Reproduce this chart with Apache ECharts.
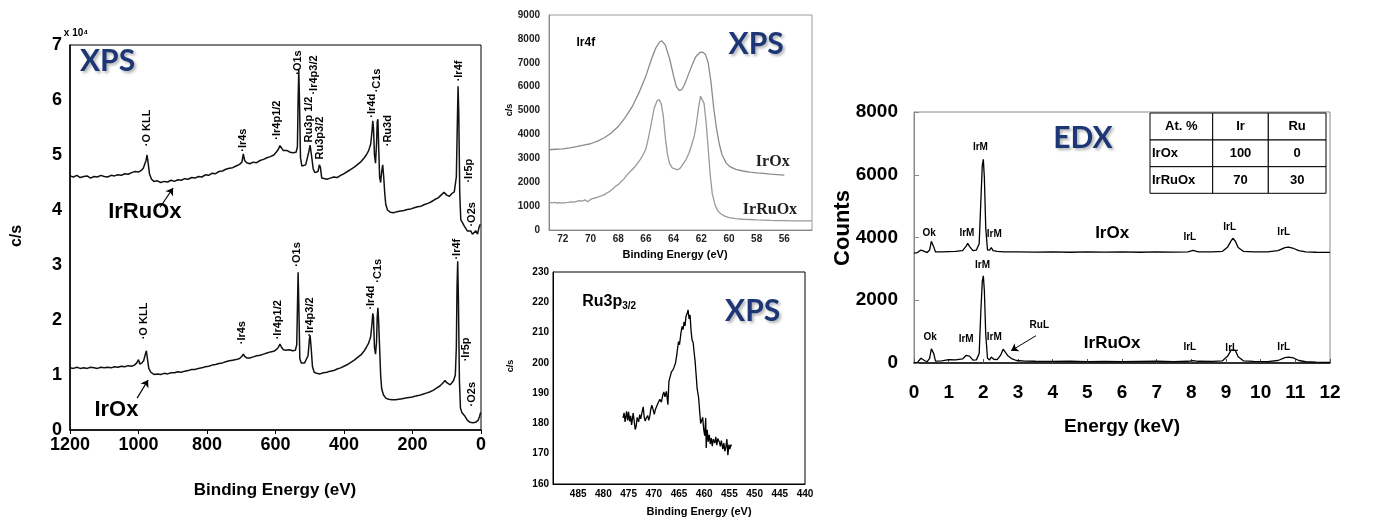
<!DOCTYPE html>
<html>
<head>
<meta charset="utf-8">
<title>XPS / EDX spectra of IrOx and IrRuOx</title>
<script src="https://cdn.jsdelivr.net/npm/echarts@6.0.0/dist/echarts.min.js"></script>
<style>
  html, body { margin: 0; padding: 0; background: #fff; }
  #chart { width: 1378px; height: 519px; }
</style>
</head>
<body>
<div id="chart"></div>
<script>
// ---------- spectra: [energy, intensity] ----------

// XPS survey, intensity in units of 1e4 c/s
const surveyIrRuOx = [
  [1200,4.62],[1190,4.60],[1180,4.63],[1170,4.59],[1160,4.61],[1150,4.62],[1140,4.58],[1130,4.61],[1120,4.60],[1110,4.63],
  [1100,4.61],[1090,4.60],[1080,4.63],[1070,4.62],[1060,4.64],[1050,4.63],[1040,4.66],[1030,4.65],[1020,4.68],[1010,4.70],
  [1000,4.69],[992,4.72],[986,4.76],[982,4.74],[978,4.90],[975,5.00],[972,4.86],[968,4.66],[962,4.56],[955,4.52],
  [945,4.53],[935,4.50],[925,4.52],[915,4.51],[905,4.54],[895,4.52],[885,4.55],[875,4.54],[865,4.57],[855,4.56],
  [845,4.59],[835,4.58],[825,4.61],[815,4.60],[805,4.64],[795,4.63],[785,4.67],[775,4.66],[765,4.70],[755,4.71],
  [745,4.74],[735,4.76],[725,4.77],[715,4.80],[705,4.83],[698,4.87],[694,5.02],[690,4.90],[684,4.86],[675,4.84],
  [665,4.87],[655,4.86],[645,4.90],[635,4.92],[625,4.95],[615,4.97],[605,5.00],[598,5.05],[592,5.10],[587,5.17],
  [582,5.15],[577,5.08],[572,5.05],[566,5.08],[562,5.11],[557,5.05],[550,5.04],[545,5.02],[540,5.05],[536,5.15],
  [534,6.00],[532,6.55],[530,6.00],[527,4.95],[523,4.80],[518,4.78],[512,4.82],[507,4.85],[503,5.05],[499,5.18],
  [495,5.00],[490,4.75],[485,4.68],[480,4.65],[476,4.70],[472,4.82],[469,4.78],[465,4.58],[460,4.55],[450,4.56],
  [440,4.58],[430,4.60],[420,4.59],[410,4.63],[400,4.66],[390,4.70],[380,4.74],[370,4.78],[360,4.83],[350,4.88],
  [342,4.94],[335,5.00],[328,5.08],[322,5.20],[318,5.45],[316,5.62],[314,5.50],[311,5.00],[308,4.85],[305,5.20],
  [303,5.60],[301,5.65],[299,5.20],[296,4.60],[293,4.50],[290,4.70],[287,4.82],[284,4.60],[281,4.30],[278,4.10],
  [273,4.00],[265,3.96],[255,3.95],[245,3.97],[235,3.98],[225,3.99],[215,4.01],[205,4.02],[195,4.04],[185,4.06],
  [175,4.07],[165,4.10],[155,4.12],[145,4.15],[135,4.19],[125,4.22],[115,4.28],[108,4.32],[100,4.27],[92,4.25],
  [85,4.30],[78,4.33],[72,4.60],[69,5.60],[67,6.25],[65,5.80],[62,4.30],[59,3.82],[55,3.78],[50,3.72],
  [45,3.70],[40,3.62],[35,3.60],[30,3.62],[25,3.56],[20,3.55],[15,3.62],[10,3.56],[6,3.68],[2,3.74]
];
const surveyIrOx = [
  [1200,1.13],[1190,1.12],[1180,1.14],[1170,1.12],[1160,1.13],[1150,1.12],[1140,1.14],[1130,1.13],[1120,1.12],[1110,1.14],
  [1100,1.13],[1090,1.14],[1080,1.13],[1070,1.15],[1060,1.14],[1050,1.16],[1040,1.15],[1030,1.17],[1020,1.16],[1012,1.18],
  [1005,1.22],[1000,1.28],[996,1.20],[990,1.22],[985,1.26],[980,1.38],[977,1.44],[974,1.30],[970,1.12],[964,1.05],
  [955,1.01],[945,1.02],[935,1.01],[925,1.03],[915,1.02],[905,1.04],[895,1.04],[885,1.06],[875,1.05],[865,1.07],
  [855,1.08],[845,1.10],[835,1.10],[825,1.12],[815,1.13],[805,1.15],[795,1.16],[785,1.18],[775,1.19],[765,1.21],
  [755,1.22],[745,1.24],[735,1.26],[725,1.27],[715,1.28],[705,1.30],[698,1.34],[694,1.38],[690,1.34],[684,1.31],
  [675,1.31],[665,1.33],[655,1.35],[645,1.36],[635,1.38],[625,1.40],[615,1.42],[605,1.43],[598,1.46],[592,1.50],
  [587,1.56],[582,1.50],[577,1.46],[570,1.45],[560,1.46],[550,1.44],[542,1.45],[538,1.55],[536,2.20],[534,2.87],
  [532,2.30],[529,1.30],[525,1.22],[520,1.20],[515,1.22],[510,1.24],[505,1.35],[501,1.65],[499,1.72],[496,1.50],
  [492,1.15],[487,1.05],[480,1.03],[470,1.02],[460,1.04],[450,1.05],[440,1.07],[430,1.08],[420,1.11],[410,1.13],
  [400,1.16],[390,1.19],[380,1.23],[370,1.27],[360,1.32],[350,1.37],[342,1.43],[335,1.50],[328,1.58],[322,1.70],
  [318,1.95],[316,2.12],[314,2.05],[311,1.50],[308,1.38],[305,1.60],[303,2.05],[301,2.22],[299,2.00],[296,1.50],
  [293,1.00],[290,0.75],[285,0.64],[278,0.58],[270,0.56],[260,0.55],[250,0.55],[240,0.56],[230,0.57],[220,0.58],
  [210,0.59],[200,0.60],[190,0.62],[180,0.63],[170,0.65],[160,0.67],[150,0.69],[140,0.72],[130,0.76],[120,0.80],
  [112,0.85],[105,0.90],[100,0.86],[95,0.83],[90,0.82],[85,0.86],[80,0.90],[75,1.00],[72,1.50],[70,2.60],
  [68,3.07],[66,2.40],[63,0.90],[60,0.40],[56,0.32],[52,0.30],[48,0.26],[44,0.24],[40,0.18],[36,0.15],
  [32,0.14],[28,0.17],[24,0.13],[20,0.10],[16,0.14],[12,0.11],[8,0.18],[4,0.25],[1,0.32]
];

// Ir4f region, c/s
const ir4fIrOx = [
  [73,3360],[72.5,3380],[72,3400],[71.5,3440],[71,3490],[70.5,3550],[70,3610],[69.5,3720],[69,3860],[68.5,4060],
  [68,4330],[67.5,4700],[67,5150],[66.5,5750],[66,6450],[65.6,7150],[65.3,7600],[65,7880],[64.85,7920],[64.6,7750],
  [64.3,7200],[64,6450],[63.8,6000],[63.6,5840],[63.4,5880],[63.2,6100],[63,6400],[62.7,6850],[62.4,7250],[62.1,7430],
  [61.9,7450],[61.7,7350],[61.5,7000],[61.3,6200],[61.1,5100],[60.9,4250],[60.7,3600],[60.5,3150],[60.2,2800],[59.9,2640],
  [59.5,2540],[59,2470],[58.5,2420],[58,2390],[57.5,2370],[57,2340],[56.5,2320],[56,2300]
];
const ir4fIrRuOx = [
  [73,1170],[72.8,1140],[72.6,1160],[72.4,1130],[72.2,1150],[72,1120],[71.8,1150],[71.6,1160],[71.4,1180],[71.2,1170],
  [71,1200],[70.8,1230],[70.6,1210],[70.4,1260],[70.2,1180],[70,1280],[69.8,1320],[69.6,1350],[69.4,1400],[69.2,1430],
  [69,1480],[68.8,1560],[68.6,1620],[68.4,1720],[68.2,1830],[68,1900],[67.8,2020],[67.6,2130],[67.4,2280],[67.2,2400],
  [67,2520],[66.8,2640],[66.6,2800],[66.4,2960],[66.2,3150],[66,3400],[65.8,3900],[65.6,4500],[65.4,5100],[65.2,5400],
  [65.05,5460],[64.9,5300],[64.75,4800],[64.6,3900],[64.45,3200],[64.3,2800],[64.1,2600],[63.9,2560],[63.7,2520],[63.5,2600],
  [63.3,2780],[63.1,2950],[62.9,3200],[62.7,3550],[62.5,3950],[62.35,4450],[62.2,5100],[62.05,5600],[61.95,5660],[61.8,5300],
  [61.65,4500],[61.5,3400],[61.35,2300],[61.2,1500],[61,1050],[60.8,800],[60.6,680],[60.3,580],[60,520],[59.5,480],
  [59,450],[58.5,440],[58,420],[57.5,410],[57,400],[56.5,395],[56,390],[55.5,385],[55,380],[54.5,380],[54,378]
];

// Ru3p3/2 region, c/s
const ru3p = [
  [476.1,181.8],[475.9,183.5],[475.7,180.5],[475.4,184],[475.2,181],[475.0,183.8],[474.8,180.7],[474.6,182.5],[474.4,179.5],[474.1,183.4],
  [473.9,181],[473.7,178],[473.5,179],[473.3,182],[473.0,180.5],[472.8,182.9],[472.6,181.5],[472.3,184],[472.1,185.5],[471.9,182],
  [471.7,180.8],[471.5,181.8],[471.2,182.6],[471.0,181],[470.8,182.3],[470.6,184.6],[470.4,186],[470.2,185],[469.9,183],[469.7,184.5],
  [469.5,184],[469.2,186.6],[469.0,186.2],[468.8,188],[468.5,187],[468.2,189.5],[468.0,190.4],[467.8,188.8],[467.5,190.6],[467.2,186.2],
  [467.0,193.9],[466.8,194.5],[466.5,197],[466.2,197.7],[466.0,198.5],[465.7,199.9],[465.5,202],[465.3,204.5],[465.1,207],[464.9,206],
  [464.6,210],[464.4,212],[464.2,211],[464.0,213.5],[463.8,212.2],[463.6,215.5],[463.4,216.2],[463.2,217.5],[463.0,214.5],[462.8,215.8],
  [462.6,210.5],[462.4,207.5],[462.2,206.8],[462.0,203.5],[461.8,200.5],[461.6,196],[461.4,191.5],[461.1,188.4],[460.9,184],[460.7,180],
  [460.5,179.6],[460.3,182],[460.1,178],[459.9,176],[459.7,181.8],[459.6,171.9],[459.4,177.9],[459.2,174],[459.0,176.2],[458.8,173.2],
  [458.6,175.2],[458.4,172.5],[458.2,174.8],[457.9,173.5],[457.7,175.6],[457.5,172.8],[457.3,175],[457.0,173.9],[456.8,172.4],[456.6,174.3],
  [456.3,171.5],[456.1,173.5],[455.9,170.8],[455.7,172.2],[455.5,174.8],[455.3,169.5],[455.1,173],[454.9,171.5],[454.7,173],[454.6,172.5]
];

// EDX spectra, counts vs keV
const edxIrOx = [
  [0,3500],[0.1,3520],[0.2,3600],[0.25,3650],[0.3,3560],[0.38,3520],[0.45,3600],[0.5,3880],[0.53,3940],[0.57,3700],
  [0.62,3540],[0.8,3545],[1.0,3550],[1.2,3555],[1.4,3580],[1.5,3720],[1.55,3810],[1.6,3720],[1.7,3580],[1.8,3600],
  [1.88,3800],[1.93,5200],[1.97,6300],[2.0,6490],[2.03,5900],[2.07,4300],[2.12,3600],[2.18,3600],[2.23,3680],[2.28,3580],
  [2.4,3560],[2.6,3545],[3.0,3540],[3.5,3535],[4.0,3540],[4.5,3530],[5.0,3540],[5.5,3535],[6.0,3545],[6.5,3530],
  [7.0,3540],[7.5,3535],[7.9,3545],[8.05,3590],[8.2,3545],[8.6,3540],[8.9,3560],[9.05,3700],[9.15,3900],[9.2,3975],
  [9.27,3880],[9.35,3680],[9.5,3560],[9.8,3545],[10.2,3545],[10.5,3580],[10.7,3680],[10.8,3690],[10.95,3650],[11.1,3580],
  [11.3,3545],[11.6,3530],[12,3525]
];
const edxIrRuOx = [
  [0,0],[0.1,20],[0.2,150],[0.25,210],[0.3,80],[0.38,40],[0.45,150],[0.5,450],[0.53,510],[0.57,300],
  [0.62,60],[0.8,70],[1.0,110],[1.2,100],[1.4,130],[1.5,240],[1.55,290],[1.6,220],[1.7,90],[1.8,100],
  [1.88,300],[1.93,1700],[1.97,2600],[2.0,2780],[2.03,2300],[2.07,900],[2.12,150],[2.18,100],[2.23,190],[2.3,120],
  [2.4,110],[2.5,250],[2.57,440],[2.62,380],[2.7,240],[2.8,150],[2.95,80],[3.2,60],[3.5,55],[4.0,50],
  [4.5,55],[5.0,45],[5.5,50],[6.0,45],[6.5,50],[7.0,55],[7.5,45],[7.9,55],[8.05,75],[8.2,55],
  [8.6,50],[8.9,70],[9.05,220],[9.15,420],[9.2,475],[9.27,400],[9.35,200],[9.5,70],[9.8,50],[10.2,45],
  [10.5,80],[10.7,170],[10.8,190],[10.95,160],[11.1,80],[11.3,40],[11.6,25],[12,20]
];

// EDX composition table
const tableHead = ['At. %', 'Ir', 'Ru'];
const tableRows = [['IrOx', '100', '0'], ['IrRuOx', '70', '30']];

// ---------- annotations: [text, energy, height at the text anchor] ----------
const surveyPeaksIrRuOx = [
  ['·O KLL', 973, 5.15], ['·Ir4s', 693, 5.05], ['·Ir4p1/2', 595, 5.27], ['·O1s', 533, 6.45],
  ['Ru3p 1/2', 502, 5.22], ['·Ir4p3/2', 487, 6.09], ['Ru3p3/2', 470, 4.91], ['·Ir4d', 316, 5.67],
  ['·C1s', 302, 6.13], ['·Ru3d', 271, 5.15], ['·Ir4f', 64, 6.33], ['·Ir5p', 34, 4.49], ['·O2s', 25, 3.69]
];
const surveyPeaksIrOx = [
  ['·O KLL', 984, 1.64], ['·Ir4s', 697, 1.55], ['·Ir4p1/2', 592, 1.64], ['·O1s', 536, 2.96],
  ['·Ir4p3/2', 499, 1.69], ['·Ir4d', 319, 2.18], ['·C1s', 300, 2.67], ['·Ir4f', 69, 3.09],
  ['·Ir5p', 42, 1.24], ['·O2s', 25, 0.42]
];
const surveyNames = [['IrRuOx', 980, 3.95], ['IrOx', 1063, 0.36]];
const surveyArrows = [[[937, 4.05], [899, 4.40]], [[1004, 0.58], [972, 0.91]]];

const ir4fNames = [['IrOx', 56.8, 2850], ['IrRuOx', 57.0, 840]];
const edxLinesIrOx = [
  ['Ok', 0.45, 4110], ['IrM', 1.54, 4110], ['IrM', 1.93, 6850], ['IrM', 2.33, 4080],
  ['IrL', 7.97, 3980], ['IrL', 9.12, 4300], ['IrL', 10.68, 4140]
];
const edxLinesIrRuOx = [
  ['IrM', 1.99, 3090], ['Ok', 0.48, 800], ['IrM', 1.52, 740], ['IrM', 2.33, 800], ['RuL', 3.63, 1190],
  ['IrL', 7.97, 490], ['IrL', 9.18, 460], ['IrL', 10.68, 490]
];
const edxNames = [['IrOx', 5.73, 4110], ['IrRuOx', 5.73, 610]];
const edxArrows = [[[3.52, 870], [2.80, 390]]];

// ---------- styling helpers ----------
const FONT = '"Liberation Sans", Arial, sans-serif';
const SERIF = '"Liberation Serif", "Times New Roman", serif';
const TITLE_FONT = 'Lato, "Open Sans", sans-serif';
const NAVY = '#1c3676';
const plain = function (v) { return String(v); };

function line(data, gi, color, width) {
  return {
    type: 'line', data: data, xAxisIndex: gi, yAxisIndex: gi,
    showSymbol: false, symbol: 'none', silent: true, z: 3,
    lineStyle: { color: color, width: width }
  };
}

// text placed at data coordinates; the invisible carrier symbol keeps full opacity
function labels(items, gi, label) {
  return {
    type: 'scatter', xAxisIndex: gi, yAxisIndex: gi, symbolSize: 1, silent: true, z: 5,
    itemStyle: { color: 'rgba(0,0,0,0)', opacity: 1 },
    data: items.map(function (d) { return { name: d[0], value: [d[1], d[2]] }; }),
    label: Object.assign({
      show: true, position: [0, 0], formatter: function (p) { return p.name; },
      color: '#000', opacity: 1, textBorderWidth: 0, fontFamily: FONT, fontWeight: 'bold'
    }, label)
  };
}

function arrows(items, gi, width) {
  return {
    type: 'lines', coordinateSystem: 'cartesian2d', xAxisIndex: gi, yAxisIndex: gi, silent: true, z: 5,
    symbol: ['none', 'arrow'], symbolSize: 7,
    lineStyle: { color: '#000', width: width, opacity: 1 },
    data: items.map(function (c) { return { coords: c }; })
  };
}

function badge(text, x, y, gi) {
  return labels([[text, x, y]], gi, {
    align: 'center', verticalAlign: 'middle', color: NAVY, fontFamily: TITLE_FONT,
    fontSize: 30, fontWeight: 'bold',
    textShadowColor: 'rgba(0,0,0,0.3)', textShadowBlur: 3, textShadowOffsetX: 2, textShadowOffsetY: 2
  });
}

const rotated = { rotate: 90, align: 'left', verticalAlign: 'middle', fontSize: 11 };
const centered = { align: 'center', verticalAlign: 'middle' };

function valueAxis(gi, o) {
  return Object.assign({
    gridIndex: gi, type: 'value', splitLine: { show: false },
    axisLine: { show: true, onZero: false, lineStyle: { color: '#000', width: 1 } },
    axisTick: { show: false }
  }, o);
}

function tickLabels(size, margin, color, extra) {
  return Object.assign({ color: color || '#000', fontFamily: FONT, fontWeight: 'bold',
    fontSize: size, margin: margin, formatter: plain }, extra);
}

// ---------- EDX table as graphic elements ----------
const colX = [1150, 1212.7, 1268.3, 1326];
const rowY = [113, 140, 166.7, 193.3];
const tableGraphic = [];
[tableHead].concat(tableRows).forEach(function (row, r) {
  row.forEach(function (cell, c) {
    tableGraphic.push({
      type: 'rect', z: 10,
      shape: { x: colX[c], y: rowY[r], width: colX[c + 1] - colX[c], height: rowY[r + 1] - rowY[r] },
      style: { fill: '#fff', stroke: '#000', lineWidth: 1 }
    });
    const leftCell = r > 0 && c === 0;
    tableGraphic.push({
      type: 'text', z: 11,
      x: leftCell ? colX[c] + 2 : (colX[c] + colX[c + 1]) / 2,
      y: (rowY[r] + rowY[r + 1]) / 2,
      style: {
        text: cell, fill: '#000', font: 'bold 13px ' + FONT,
        align: leftCell ? 'left' : 'center', verticalAlign: 'middle',
        textAlign: leftCell ? 'left' : 'center', textVerticalAlign: 'middle'
      }
    });
  });
});

function gText(text, x, y, font, rot) {
  return {
    type: 'text', x: x, y: y, rotation: rot || 0, z: 10,
    style: { text: text, fill: '#000', font: font, align: 'center', verticalAlign: 'middle',
      textAlign: 'center', textVerticalAlign: 'middle' }
  };
}

const chart = echarts.init(document.getElementById('chart'), null, { renderer: 'canvas' });

chart.setOption({
  animation: false,
  backgroundColor: '#fff',
  grid: [
    { left: 70, top: 45, width: 411, height: 385, show: true, borderColor: '#000', borderWidth: 1 },
    { left: 549, top: 15, width: 263, height: 215, show: true, borderColor: '#9a9a9a', borderWidth: 1 },
    { left: 553, top: 272, width: 252, height: 212, show: true, borderColor: '#000', borderWidth: 1 },
    { left: 914, top: 112, width: 416, height: 251, show: true, borderColor: '#8a8a8a', borderWidth: 1 }
  ],
  xAxis: [
    valueAxis(0, { min: 0, max: 1200, interval: 200, inverse: true,
      axisLine: { show: true, onZero: false, lineStyle: { color: '#000', width: 1.5 } },
      axisTick: { show: true, length: 4, lineStyle: { color: '#000' } },
      axisLabel: tickLabels(18, 6) }),
    valueAxis(1, { min: 54, max: 73, interval: 2, inverse: true,
      axisLine: { show: true, onZero: false, lineStyle: { color: '#888', width: 1 } },
      axisLabel: tickLabels(10, 4, '#222', { showMinLabel: false, showMaxLabel: false }) }),
    valueAxis(2, { min: 440, max: 490, interval: 5, inverse: true,
      axisLabel: tickLabels(10, 5, '#000', { showMaxLabel: false }) }),
    valueAxis(3, { min: 0, max: 12, interval: 1,
      axisLine: { show: true, onZero: false, lineStyle: { color: '#000', width: 1.5 } },
      axisTick: { show: true, inside: true, length: 4, lineStyle: { color: '#555' } },
      axisLabel: tickLabels(19, 20) })
  ],
  yAxis: [
    valueAxis(0, { min: 0, max: 7, interval: 1,
      axisLine: { show: true, onZero: false, lineStyle: { color: '#000', width: 1.5 } },
      axisLabel: tickLabels(18, 8) }),
    valueAxis(1, { min: 0, max: 9000, interval: 1000,
      axisLine: { show: true, onZero: false, lineStyle: { color: '#888', width: 1 } },
      axisLabel: tickLabels(10, 9, '#222') }),
    valueAxis(2, { min: 160, max: 230, interval: 10,
      axisLabel: tickLabels(10, 4) }),
    valueAxis(3, { min: 0, max: 8000, interval: 2000,
      axisLine: { show: true, onZero: false, lineStyle: { color: '#888', width: 1 } },
      axisTick: { show: true, inside: true, length: 5, lineStyle: { color: '#888' } },
      axisLabel: tickLabels(19, 16) })
  ],
  series: [
    // survey
    line(surveyIrRuOx, 0, '#111', 1.5),
    line(surveyIrOx, 0, '#111', 1.5),
    labels(surveyPeaksIrRuOx, 0, rotated),
    labels(surveyPeaksIrOx, 0, rotated),
    labels(surveyNames, 0, Object.assign({ fontSize: 22 }, centered)),
    arrows(surveyArrows, 0, 1.2),
    badge('XPS', 1089, 6.69, 0),
    // Ir4f
    line(ir4fIrOx, 1, '#8c8c8c', 1.3),
    line(ir4fIrRuOx, 1, '#9a9a9a', 1.3),
    labels([['Ir4f', 70.3, 7820]], 1, Object.assign({ fontSize: 12 }, centered)),
    labels(ir4fNames, 1, Object.assign({ fontSize: 16, fontFamily: SERIF, color: '#222' }, centered)),
    badge('XPS', 58.0, 7740, 1),
    // Ru3p3/2
    line(ru3p, 2, '#000', 1.3),
    labels([['Ru3p', 484.1, 220.2]], 2, {
      align: 'left', verticalAlign: 'middle',
      formatter: function () { return '{a|Ru3p}{b|3/2}'; },
      rich: {
        a: { fontSize: 16, fontWeight: 'bold', fontFamily: FONT, color: '#000', lineHeight: 20 },
        b: { fontSize: 10, fontWeight: 'bold', fontFamily: FONT, color: '#000', verticalAlign: 'bottom', lineHeight: 12 }
      }
    }),
    badge('XPS', 450.3, 216.9, 2),
    // EDX
    line(edxIrOx, 3, '#000', 1.3),
    line(edxIrRuOx, 3, '#000', 1.3),
    labels(edxLinesIrOx, 3, Object.assign({ fontSize: 10 }, centered)),
    labels(edxLinesIrRuOx, 3, Object.assign({ fontSize: 10 }, centered)),
    labels(edxNames, 3, Object.assign({ fontSize: 17 }, centered)),
    arrows(edxArrows, 3, 1),
    badge('EDX', 4.89, 7130, 3)
  ],
  graphic: [
    gText('x 10⁴', 76, 33, 'bold 10px ' + FONT),
    gText('c/s', 17, 236, 'bold 16px ' + FONT, Math.PI / 2),
    gText('Binding Energy (eV)', 275, 490, 'bold 17px ' + FONT),
    gText('c/s', 510, 110, 'bold 9px ' + FONT, Math.PI / 2),
    gText('Binding Energy (eV)', 675, 255, 'bold 11px ' + FONT),
    gText('c/s', 511, 366, 'bold 9px ' + FONT, Math.PI / 2),
    gText('Binding Energy (eV)', 699, 512, 'bold 11px ' + FONT),
    gText('Counts', 843, 228, 'bold 22px ' + FONT, Math.PI / 2),
    gText('Energy (keV)', 1122, 427, 'bold 19px ' + FONT)
  ].concat(tableGraphic)
});
</script>
</body>
</html>
